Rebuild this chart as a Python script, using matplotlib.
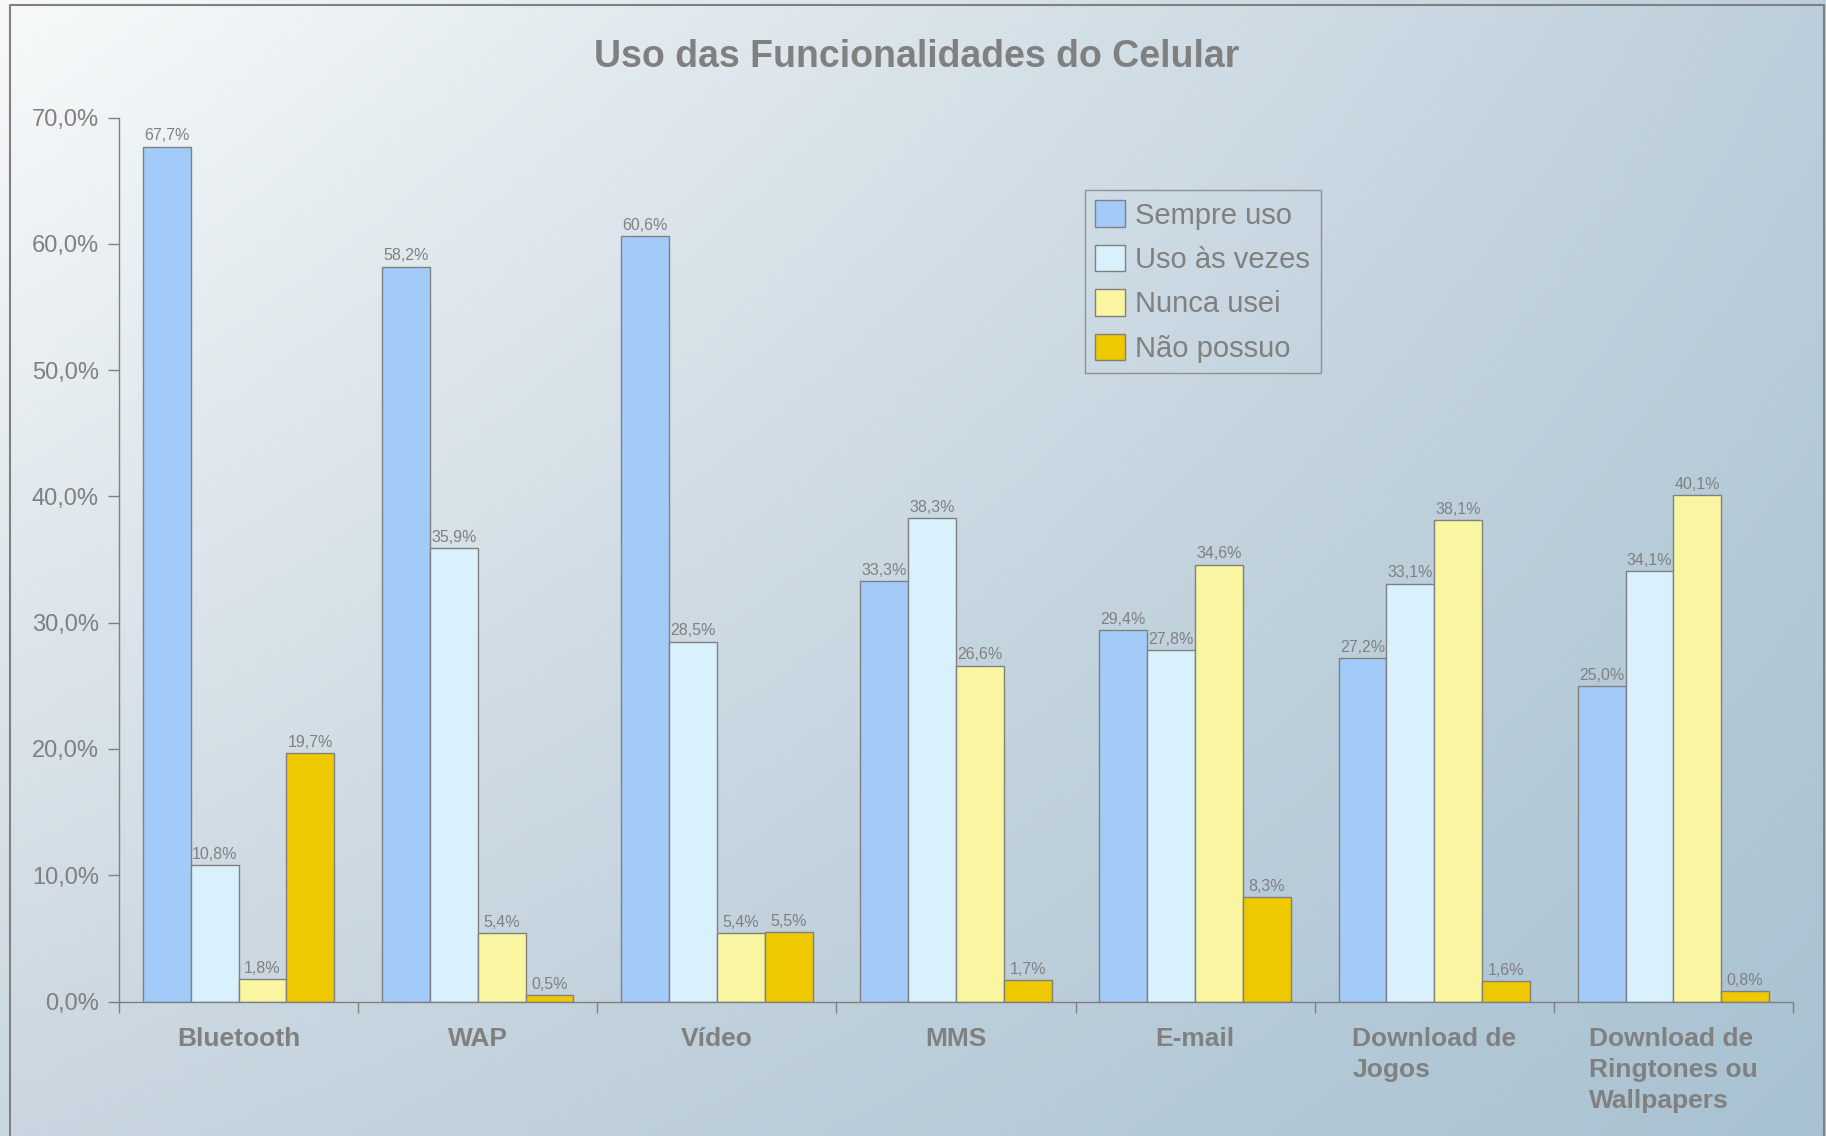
import numpy as np
import matplotlib
matplotlib.use('Agg')
import matplotlib.pyplot as plt
from matplotlib.lines import Line2D

plt.rcParams['font.family'] = ['Liberation Sans', 'DejaVu Sans']

# Dados
categorias = ['Bluetooth', 'WAP', 'Vídeo', 'MMS', 'E-mail',
              'Download de\nJogos', 'Download de\nRingtones ou\nWallpapers']
sempre_uso = [67.7, 58.2, 60.6, 33.3, 29.4, 27.2, 25.0]
uso_as_vezes = [10.8, 35.9, 28.5, 38.3, 27.8, 33.1, 34.1]
nunca_usei = [1.8, 5.4, 5.4, 26.6, 34.6, 38.1, 40.1]
nao_possuo = [19.7, 0.5, 5.5, 1.7, 8.3, 1.6, 0.8]

series = ['Sempre uso', 'Uso às vezes', 'Nunca usei', 'Não possuo']
valores = [sempre_uso, uso_as_vezes, nunca_usei, nao_possuo]
cores = ['#A3CBFA', '#D9F0FD', '#F9F5A1', '#EEC800']
cinza = '#808080'

fig = plt.figure(figsize=(18.26, 11.36), dpi=100)

# fundo em degradê
bg = fig.add_axes([0, 0, 1, 1], zorder=-10)
cantos = np.array([[[0.97, 0.98, 0.98], [0.74, 0.81, 0.86]],
                   [[0.79, 0.84, 0.88], [0.66, 0.76, 0.82]]])
t = np.linspace(0, 1, 200)
yy, xx = np.meshgrid(t, t, indexing='ij')
img = (cantos[0, 0] * ((1 - yy) * (1 - xx))[..., None]
       + cantos[0, 1] * ((1 - yy) * xx)[..., None]
       + cantos[1, 0] * (yy * (1 - xx))[..., None]
       + cantos[1, 1] * (yy * xx)[..., None])
bg.imshow(img, aspect='auto', extent=[0, 1, 0, 1], origin='upper')
bg.set_xlim(0, 1)
bg.set_ylim(0, 1)
bg.axis('off')

# moldura
W, H = 1826, 1136
fx = [10 / W, 10 / W, 1824 / W, 1824 / W]
fy = [-0.01, 1 - 5 / H, 1 - 5 / H, -0.01]
fig.add_artist(Line2D(fx, fy, color=cinza, lw=1.5, transform=fig.transFigure))

ax = fig.add_axes([119 / W, 1 - 1001.5 / H, (1793 - 119) / W, (1001.5 - 117.6) / H])
ax.patch.set_alpha(0)

x = np.arange(len(categorias))
largura = 0.2
for i, (nome, vals, cor) in enumerate(zip(series, valores, cores)):
    pos = x + (i - 1.5) * largura
    barras = ax.bar(pos, vals, largura, color=cor, edgecolor=cinza, linewidth=1, label=nome)
    for b, v in zip(barras, vals):
        ax.text(b.get_x() + b.get_width() / 2, v + 0.25, f'{v:.1f}%'.replace('.', ','),
                ha='center', va='bottom', fontsize=11.5, color=cinza)

ax.set_xlim(-0.5, len(categorias) - 0.5)
ax.set_ylim(0, 70)
ax.set_yticks(np.arange(0, 71, 10))
ax.set_yticklabels([f'{v:.1f}%'.replace('.', ',') for v in np.arange(0, 71, 10)])
ax.set_xticks(x)
ax.set_xticklabels(categorias, fontsize=19, fontweight='bold', color=cinza,
                   multialignment='left', va='top', linespacing=1.37)
ax.set_xticks(np.arange(-0.5, len(categorias), 1), minor=True)
ax.tick_params(axis='x', which='major', length=0, pad=18)
ax.tick_params(axis='x', which='minor', length=8, color=cinza, width=1)
ax.tick_params(axis='y', length=8, color=cinza, width=1, labelsize=17,
               labelcolor=cinza, pad=6.5)

for s in ['top', 'right']:
    ax.spines[s].set_visible(False)
for s in ['left', 'bottom']:
    ax.spines[s].set_color(cinza)
    ax.spines[s].set_linewidth(1)

fig.text(917 / W, 1 - 67 / H, 'Uso das Funcionalidades do Celular', ha='center',
         va='baseline', fontsize=27, fontweight='bold', color=cinza)

leg = fig.legend(loc='upper left', bbox_to_anchor=(1085 / W, 1 - 190 / H),
                 fontsize=21, frameon=True, fancybox=False, edgecolor=cinza,
                 handlelength=1.03, handleheight=1.03, handletextpad=0.35,
                 labelspacing=0.52, borderpad=0.35, borderaxespad=0)
leg.get_frame().set_facecolor('none')
leg.get_frame().set_linewidth(1)
for txt in leg.get_texts():
    txt.set_color(cinza)

plt.savefig('out.png', dpi=100)
